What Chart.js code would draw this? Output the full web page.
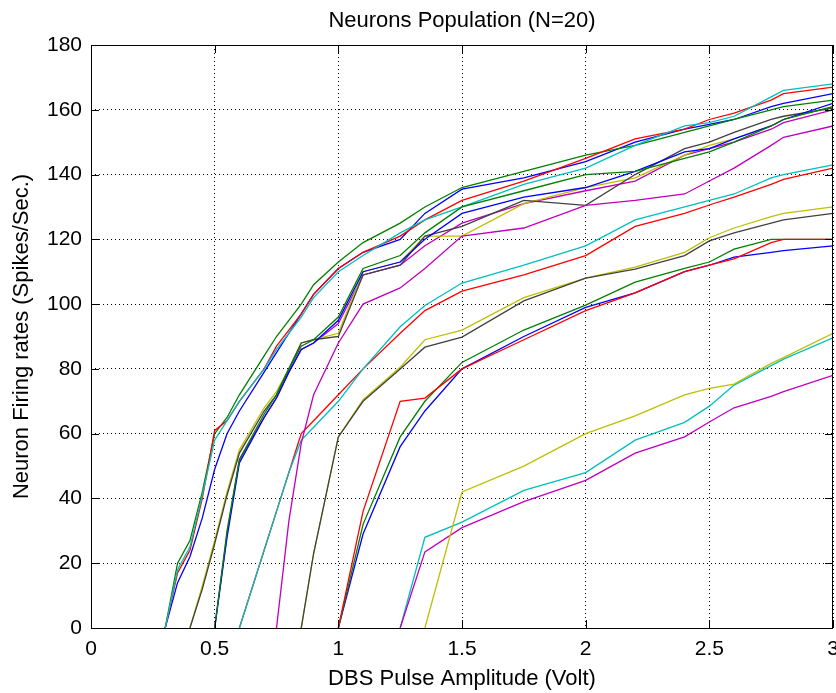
<!DOCTYPE html>
<html>
<head>
<meta charset="utf-8">
<script src="https://cdn.jsdelivr.net/npm/chart.js@4.4.0/dist/chart.umd.min.js"></script>
<style>
    html, body { margin: 0; padding: 0; background: #fff; }
    #wrap { width: 836px; height: 693px; }
</style>
</head>
<body>
<div id="wrap"><canvas id="myChart" width="836" height="693"></canvas></div>
<script>
"use strict";

//region Data
// pulse amplitude (Volt), shared by all neurons
const amps = [0.3, 0.35, 0.4, 0.45, 0.5, 0.55, 0.6, 0.7, 0.75, 0.8, 0.85, 0.9, 1.0,
              1.1, 1.25, 1.35, 1.5, 1.75, 2.0, 2.2, 2.4, 2.5, 2.6, 2.75, 2.8, 3.0];

// firing rates (spikes/sec), null = below threshold
const n01 = [0, 14, 22, 34, 49, 60, 67, 79, 85, 91, 97, 103, 111, 116, 120, 128, 135.5, 139, 144, 150, 154, 155.5, 157, 161, 162, 165];
const n02 = [0, 20, 27, 42, 60, 65, 72, 84, 90, 95, 100, 106, 113, 119, 125, 130, 136, 141, 146, 149, 153, 155, 157, 160, 161, 163];
const n03 = [0, 17, 24, 40, 61, 64, 70, 80, 87, 92, 97, 103, 111, 116, 121, 126, 132, 138, 145, 151, 154, 157, 159, 163, 165, 167];
const n04 = [0, 18, 25, 41, 58, 64, 70, 80, 86, 91, 96, 102, 110, 115, 122, 126, 130, 137, 142, 149, 155, 156, 158, 164, 166, 168];
const n05 = [null, null, null, null, 0, 29, 52, 65, 71, 79, 86, 88, 94, 109, 112, 118, 125, 131, 135, 138, 146, 148, 150, 154, 156, 160];
const n06 = [null, null, 0, 13, 27, 42, 55, 68, 73, 80, 88, 89, 91, 110, 113, 121, 121, 131, 136, 139, 146, 149, 151, 155, 157, 161];
const n07 = [null, null, 0, 12, 26, 41, 54, 67, 72, 80, 88, 89, 90, 109, 112, 121, 124, 132, 130.5, 140, 148, 150, 153, 157, 158, 160.5];
const n08 = [null, null, null, null, 0, 28, 51, 65, 71, 79, 86, 88, 95, 110, 113, 120, 128, 133, 136, 141, 147, 148, 151, 155, 157, 162];
const n09 = [null, null, null, null, 0, 30, 52, 66, 72, 80, 87, 89, 96, 111, 115, 122, 130, 135, 140, 141, 145, 147, 150, 155, 157, 161];
const n10 = [null, null, null, null, null, null, 0, 24, 36, 48, 60, 64, 72, 80, 91, 98, 104, 109, 115, 124, 128, 130.6, 133, 137, 138.5, 142];
const n11 = [null, null, null, null, null, null, 0, 24, 36, 48, 58, 62, 70, 80, 93, 99.6, 106.5, 112, 118, 126, 130, 132, 134, 139, 140, 143];
const n12 = [null, null, null, null, null, null, null, null, 0, 33, 57, 72, 88, 100, 105, 111, 121, 123.5, 130.5, 132, 134, 138, 142, 149, 151.5, 155];
const n13 = [null, null, null, null, null, null, null, null, null, null, 0, 23, 59, 70.5, 80.5, 89, 92, 102, 108, 111.4, 116, 120.5, 123.5, 127, 128, 130];
const n14 = [null, null, null, null, null, null, null, null, null, null, 0, 23, 59, 70, 80, 86.7, 89.8, 101, 108, 110.8, 115, 119.5, 122, 125, 126, 128];
const n15 = [null, null, null, null, null, null, null, null, null, null, null, null, 0, 29, 56, 67, 80, 90, 99, 103.5, 110, 112, 114.5, 116, 116.5, 118];
const n16 = [null, null, null, null, null, null, null, null, null, null, null, null, 0, 32, 59, 70, 82, 92, 99.7, 106.8, 111, 113, 117, 120, 120, 120];
const n17 = [null, null, null, null, null, null, null, null, null, null, null, null, 0, 36, 70, 71, 80, 89, 98, 103.5, 110, 112, 114, 119, 120, 120];
const n18 = [null, null, null, null, null, null, null, null, null, null, null, null, null, null, 0, 28, 32.7, 42.5, 48, 58, 63.5, 68.5, 75, 81, 83, 89.6];
const n19 = [null, null, null, null, null, null, null, null, null, null, null, null, null, null, 0, 23.5, 31, 39, 45.6, 54, 59, 63.6, 68, 71.5, 73, 78];
const n20 = [null, null, null, null, null, null, null, null, null, null, null, null, null, null, null, 0, 42, 50, 60, 65.5, 72, 74, 75.3, 81.7, 83.5, 91];

const neurons = [n01, n02, n03, n04, n05, n06, n07, n08, n09, n10,
                 n11, n12, n13, n14, n15, n16, n17, n18, n19, n20];

const xTicks = [0, 0.5, 1, 1.5, 2, 2.5, 3];
const yTicks = [0, 20, 40, 60, 80, 100, 120, 140, 160, 180];
//endregion

//region Style
// matlab default color order
const colorOrder = ["#0000ff", "#008000", "#ff0000", "#00bfbf", "#bf00bf", "#bfbf00", "#404040"];
const FONT = "'Liberation Sans', Arial, sans-serif";
//endregion

//region Main
let datasets = [];
for (let i = 0; i < neurons.length; i++) {
    let pts = [];
    for (let j = 0; j < amps.length; j++) {
        if (neurons[i][j] !== null) pts.push({x: amps[j], y: neurons[i][j]});
    }
    datasets.push({
        data: pts,
        borderColor: colorOrder[i % colorOrder.length],
        borderWidth: 1.3,
        pointRadius: 0,
        tension: 0,
        fill: false,
        order: neurons.length - i
    });
}

// box, inward ticks and text labels
const frame = {
    id: "frame",
    afterDraw(chart) {
        let ctx = chart.ctx;
        let a = chart.chartArea;
        let xs = chart.scales.x, ys = chart.scales.y;
        ctx.save();
        ctx.strokeStyle = "#000";
        ctx.lineWidth = 1;
        ctx.setLineDash([]);
        ctx.strokeRect(Math.round(a.left) + 0.5, Math.round(a.top) + 0.5,
            Math.round(a.right - a.left) - 1, Math.round(a.bottom - a.top));
        ctx.beginPath();
        xTicks.forEach(function (v) {
            let px = Math.round(xs.getPixelForValue(v)) + 0.5;
            ctx.moveTo(px, a.bottom); ctx.lineTo(px, a.bottom - 8);
            ctx.moveTo(px, a.top); ctx.lineTo(px, a.top + 8);
        });
        yTicks.forEach(function (v) {
            let py = Math.round(ys.getPixelForValue(v)) + 0.5;
            ctx.moveTo(a.left, py); ctx.lineTo(a.left + 8, py);
            ctx.moveTo(a.right, py); ctx.lineTo(a.right - 8, py);
        });
        ctx.stroke();

        ctx.fillStyle = "#000";
        ctx.font = "22px " + FONT;
        ctx.textAlign = "center";
        ctx.textBaseline = "middle";
        let cx = (a.left + a.right) / 2;
        ctx.fillText("Neurons Population (N=20)", cx, 21);
        ctx.fillText("DBS Pulse Amplitude (Volt)", cx, 679);
        ctx.translate(22, (a.top + a.bottom) / 2);
        ctx.rotate(-Math.PI / 2);
        ctx.fillText("Neuron Firing rates (Spikes/Sec.)", 0, 0);
        ctx.restore();
    }
};

let newChart = new Chart(document.getElementById("myChart"), {
    type: "line",
    data: {datasets: datasets},
    plugins: [frame],
    options: {
        responsive: false,
        animation: false,
        layout: {padding: {top: 45, right: 3, left: 0, bottom: 0}},
        plugins: {legend: {display: false}, tooltip: {enabled: false}},
        scales: {
            x: {
                type: "linear",
                min: 0,
                max: 3,
                afterBuildTicks: function (s) { s.ticks = xTicks.map(function (v) { return {value: v}; }); },
                afterFit: function (s) { s.height = 65; s.paddingLeft = 0; s.paddingRight = 0; },
                grid: {color: "#000", lineWidth: 1, drawTicks: false},
                border: {display: false, dash: [1, 3]},
                ticks: {
                    color: "#000", font: {family: FONT, size: 21}, padding: 9, maxRotation: 0, autoSkip: false,
                    callback: function (v) { return String(v); }
                }
            },
            y: {
                type: "linear",
                min: 0,
                max: 180,
                afterBuildTicks: function (s) { s.ticks = yTicks.map(function (v) { return {value: v}; }); },
                afterFit: function (s) { s.width = 91; s.paddingTop = 0; s.paddingBottom = 0; },
                grid: {color: "#000", lineWidth: 1, drawTicks: false},
                border: {display: false, dash: [1, 3]},
                ticks: {
                    color: "#000", font: {family: FONT, size: 21}, padding: 9, autoSkip: false,
                    callback: function (v) { return String(v); }
                }
            }
        }
    }
});
//endregion
</script>
</body>
</html>
